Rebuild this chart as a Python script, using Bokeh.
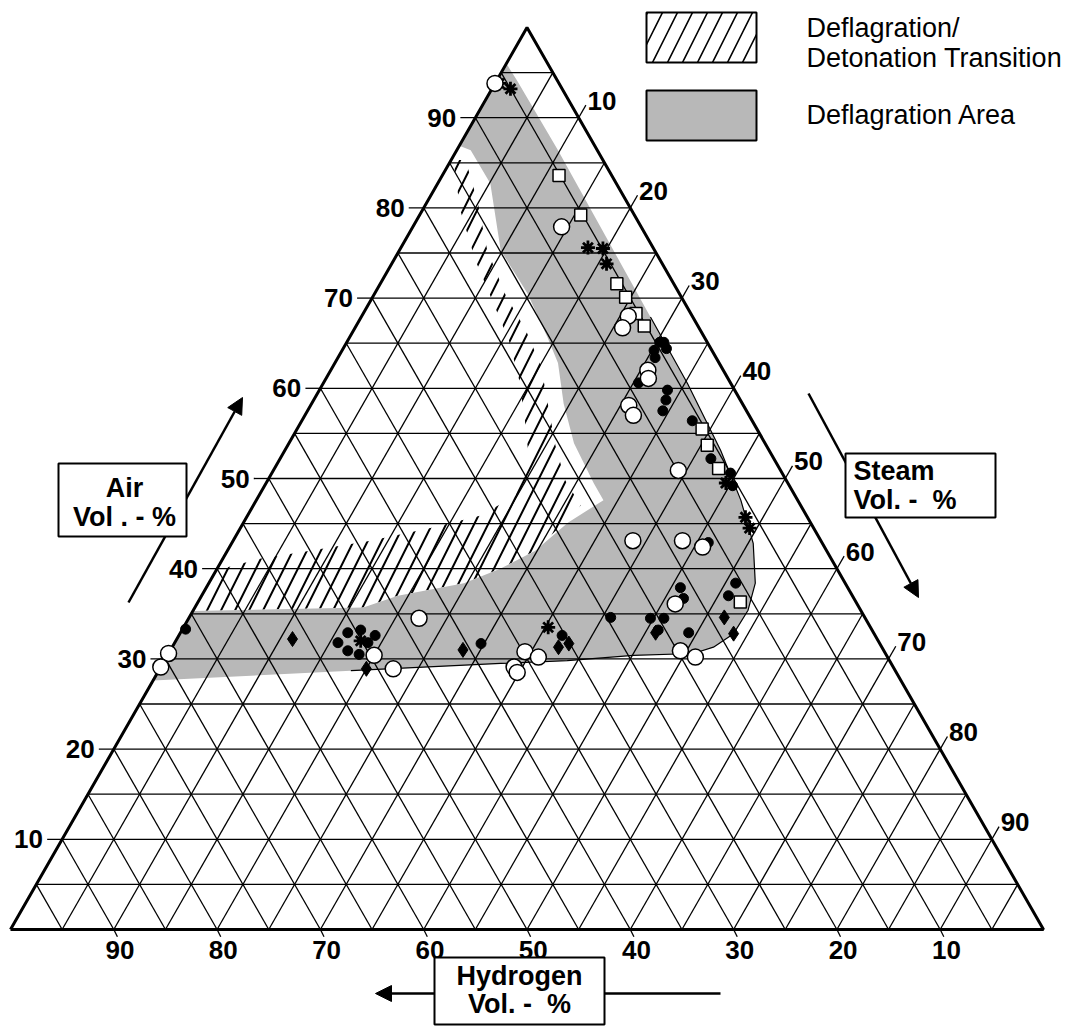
import numpy as np
from bokeh.plotting import figure
from bokeh.models import Range1d, Label, BoxAnnotation, Arrow, NormalHead
from bokeh.core.properties import value
from bokeh.embed import file_html
from bokeh.resources import INLINE

# ---------------- data (vol.-%, air / steam; hydrogen = 100 - air - steam) ----------------
open_circle_air = [93.8, 77.9, 68.0, 66.7, 62.0, 61.1, 58.1, 57.0, 50.9, 43.1, 43.1, 42.4,
                   36.1, 30.9, 30.2, 34.5, 30.4, 28.9, 29.1, 28.5, 30.8, 30.2, 30.6, 29.1]
open_circle_steam = [0.0, 14.4, 25.8, 25.9, 30.7, 31.2, 30.8, 31.8, 39.2, 38.7, 43.5, 45.8,
                     46.3, 49.4, 51.2, 22.3, 20.0, 22.6, 34.2, 34.8, 34.4, 36.0, 0.0, 0.0]

filled_circle_air = [33.3, 32.9, 31.8, 30.9, 33.2, 32.6, 30.5, 31.8, 31.7, 34.6, 34.5, 34.5,
                     33.2, 37.9, 36.7, 32.9, 38.4, 37.0, 42.9, 64.2, 65.1, 64.4, 63.4, 65.1,
                     59.8, 58.7, 57.5, 60.6, 56.4, 52.2, 50.6, 49.2, 32.6]
filled_circle_steam = [0.3, 16.2, 15.8, 17.2, 17.3, 19.0, 18.5, 18.7, 29.7, 40.8, 44.7, 46.0,
                       46.1, 45.9, 46.8, 49.2, 51.0, 51.0, 46.1, 30.2, 30.3, 31.3, 30.7, 30.7,
                       33.7, 34.1, 34.4, 30.5, 37.8, 41.7, 44.4, 45.3, 37.1]

square_air = [83.6, 79.2, 71.6, 70.1, 68.3, 66.9, 55.5, 53.7, 51.1, 36.3]
square_steam = [11.3, 15.6, 22.9, 24.5, 26.4, 27.9, 39.2, 40.6, 43.0, 52.5]

diamond_air = [32.2, 28.9, 31.0, 31.3, 31.7, 32.9, 34.6, 32.8]
diamond_steam = [11.2, 20.0, 28.3, 37.4, 38.2, 46.0, 51.8, 53.6]

star_air = [93.8, 93.2, 75.6, 75.5, 73.8, 49.5, 45.7, 44.5, 33.5, 32.0]
star_steam = [0.4, 1.8, 18.1, 19.6, 20.8, 44.5, 48.3, 49.3, 35.3, 17.9]

# deflagration area (dotted grey region) outline
defl_air = [96.0, 94.1, 86.4, 67.9, 60.5, 53.1, 47.6, 42.8, 38.4, 35.4, 32.8, 31.3, 30.6,
            30.4, 29.8, 29.5, 28.7, 27.6, 35.3, 35.7, 37.0, 38.4, 40.0, 42.0, 45.1, 47.6,
            49.5, 53.9, 58.3, 62.8, 65.6, 70.5, 75.3, 82.7, 86.4, 86.9]
defl_steam = [0.0, 2.0, 9.8, 28.0, 35.3, 42.2, 46.9, 50.5, 52.9, 53.7, 53.6, 52.4, 50.8,
              45.1, 39.0, 32.7, 18.6, 0.0, 0.0, 16.3, 19.0, 24.7, 27.4, 29.8, 31.4, 33.6,
              31.7, 27.6, 24.4, 21.6, 19.2, 14.8, 9.8, 5.1, 1.35, 0.0]

# deflagration / detonation transition (hatched region) outline
ddt_air = [85.3, 79.7, 74.2, 69.7, 65.3, 60.9, 56.4, 52.0, 48.1, 45.9, 44.5, 43.1, 42.0,
           41.1, 40.2, 38.7, 35.6, 35.3, 35.7, 37.0, 38.4, 40.0, 42.0, 44.8, 47.0, 49.8,
           53.7, 58.1, 62.5, 66.4, 70.3, 75.3, 80.8, 85.3]
ddt_steam = [0.2, 3.7, 7.9, 11.8, 15.6, 18.8, 21.6, 24.2, 24.8, 22.6, 18.4, 13.3, 8.0,
             3.6, 1.0, 0.2, 0.4, 0.3, 16.3, 19.0, 24.7, 27.4, 29.8, 30.9, 31.7, 28.8,
             25.9, 23.0, 20.1, 16.7, 12.8, 8.5, 4.8, 1.4]

tick_values = [10, 20, 30, 40, 50, 60, 70, 80, 90]
tick_labels = ["10", "20", "30", "40", "50", "60", "70", "80", "90"]
grid_values = list(range(5, 100, 5))


def tern(air, steam):
    a = np.asarray(air, float)
    s = np.asarray(steam, float)
    return s + a / 2.0, a


# ---------------- page geometry ----------------
SX, SY = 10.33, 9.02          # pixels per percent (horizontal, vertical)
PX0, PY0 = 10.0, 929.0        # position of the hydrogen corner in the picture
W, H = 1066, 1026


def px(x):
    return (x - PX0) / SX


def py(y):
    return (PY0 - y) / SY


p = figure(width=W, height=H, output_backend="svg", toolbar_location=None,
           x_range=Range1d(px(0), px(W)), y_range=Range1d(py(H), py(0)),
           min_border=0, outline_line_color=None, x_axis_location=None, y_axis_location=None,
           background_fill_color="white")
p.grid.visible = False

# hatched region
hx, hy = tern(ddt_air, ddt_steam)
p.patch(hx, hy, fill_alpha=0, line_color=None, hatch_pattern="/", hatch_scale=28,
        hatch_weight=2.0, hatch_color="black")

# grey region
gx, gy = tern(defl_air, defl_steam)
p.patch(gx, gy, fill_color="#b8b8b8", line_color=None)
p.line(gx[3:17], gy[3:17], line_color="black", line_width=1.2)

# grid
xs, ys = [], []
for g in grid_values:
    xs.append([g / 2, 100 - g / 2]); ys.append([g, g])              # constant air
    xs.append([g, g + (100 - g) / 2]); ys.append([0, 100 - g])      # constant steam
    xs.append([100 - g, (100 - g) / 2]); ys.append([0, 100 - g])    # constant hydrogen
p.multi_line(xs, ys, line_color="black", line_width=1.3)
p.line([0, 100, 50, 0], [0, 0, 100, 0], line_color="black", line_width=3)

# ticks
tv = np.array(tick_values, float)
axs = [[v / 2 - 1.45, v / 2] for v in tv]
ays = [[v, v] for v in tv]
sxs = [[50 + v / 2, 50 + v / 2 + 0.7] for v in tv]
sys_ = [[100 - v, 100 - v + 1.4] for v in tv]
hxs = [[100 - v, 100 - v + 0.35] for v in tv]
hys = [[0, -0.8] for v in tv]
p.multi_line(axs + sxs + hxs, ays + sys_ + hys, line_color="black", line_width=1.3)

font = value("Liberation Sans")
p.text(tv / 2 - 1.85, tv, text=tick_labels, text_font=font, text_font_style="bold",
       text_font_size="26px", text_align="right", text_baseline="middle", text_color="black")
p.text(50 + tv / 2 + 0.85, 100 - tv + 1.9, text=tick_labels, text_font=font,
       text_font_style="bold", text_font_size="26px", text_align="left",
       text_baseline="middle", text_color="black")
p.text(100 - tv + 0.6, np.full(len(tv), -2.3), text=tick_labels, text_font=font,
       text_font_style="bold", text_font_size="26px", text_align="center",
       text_baseline="middle", text_color="black")

# markers
x, y = tern(filled_circle_air, filled_circle_steam)
p.scatter(x, y, marker="circle", size=10, fill_color="black", line_color="black")
x, y = tern(diamond_air, diamond_steam)
p.scatter(x, y, marker="diamond", size=15, fill_color="black", line_color="black")
x, y = tern(star_air, star_steam)
p.scatter(x, y, marker="asterisk", size=14, line_color="black", line_width=2.8)
x, y = tern(square_air, square_steam)
p.scatter(x, y, marker="square", size=12, fill_color="white", line_color="black", line_width=1.5)
x, y = tern(open_circle_air, open_circle_steam)
p.scatter(x, y, marker="circle", size=16, fill_color="white", line_color="black", line_width=1.5)


# ---------------- annotations ----------------
def arrow(x0, y0, x1, y1, head=True):
    a = Arrow(x_start=px(x0), y_start=py(y0), x_end=px(x1), y_end=py(y1),
              line_color="black", line_width=2.5,
              end=NormalHead(size=16, fill_color="black", line_color="black") if head else None)
    p.add_layout(a)


arrow(128, 602, 242, 397)
arrow(808, 393, 918, 597)
arrow(434, 993, 375, 993)
arrow(604, 993, 720, 993, head=False)


def box(l, r, t, b, **kw):
    bx = BoxAnnotation(left=px(l), right=px(r), top=py(t), bottom=py(b),
                       line_color="black", line_width=2, line_alpha=1, **kw)
    p.add_layout(bx)


box(58, 186, 463, 536, fill_color="white", fill_alpha=1)
box(845, 995, 453, 517, fill_color="white", fill_alpha=1)
box(434, 604, 957, 1024, fill_color="white", fill_alpha=1)
box(646, 756, 12, 62, fill_color="white", fill_alpha=1, hatch_pattern="/", hatch_scale=30,
    hatch_weight=1.6, hatch_color="black")
box(646, 756, 90, 140, fill_color="#b8b8b8", fill_alpha=1)


def label(x0, y0, text, align="left", bold=True, size="27px"):
    p.add_layout(Label(x=px(x0), y=py(y0), text=text, text_font="Liberation Sans",
                       text_font_style="bold" if bold else "normal", text_font_size=size,
                       text_align=align, text_baseline="middle", text_color="black"))


label(124, 487, "Air", "center")
label(124, 516, "Vol\u00a0.\u00a0-\u00a0%", "center")
label(853, 470, "Steam")
label(853, 499, "Vol.\u00a0-\u00a0\u00a0%")
label(519, 975, "Hydrogen", "center")
label(519, 1003, "Vol.\u00a0-\u00a0\u00a0%", "center")
label(806, 27, "Deflagration/", bold=False)
label(806, 57, "Detonation Transition", bold=False)
label(806, 114, "Deflagration Area", bold=False)

open("out.html", "w").write(file_html(p, INLINE))
